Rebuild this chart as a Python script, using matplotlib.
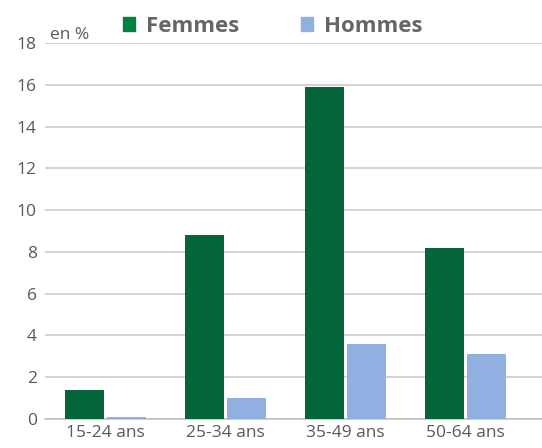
import numpy as np
import matplotlib.pyplot as plt
from matplotlib.patches import Patch

plt.rcParams['font.family'] = ['Open Sans', 'DejaVu Sans']

# donnees
categories = ["15-24 ans", "25-34 ans", "35-49 ans", "50-64 ans"]
femmes = [1.4, 8.8, 15.9, 8.2]
hommes = [0.1, 1.0, 3.6, 3.1]

c_fem = "#04653a"
c_hom = "#8fb0e0"
gris = "#595959"

fig = plt.figure(figsize=(5.42, 4.48), dpi=100)
ax = fig.add_axes([45/542, 29/448, 497/542, 376/448])

x = np.arange(len(categories))
w = 0.325
ax.bar(x - 0.175, femmes, width=w, color=c_fem, zorder=3)
ax.bar(x + 0.175, hommes, width=w, color=c_hom, zorder=3)

ax.set_xlim(-0.5, 3.64)
ax.set_ylim(0, 18)
ax.set_yticks(np.arange(0, 19, 2))
ax.set_xticks(x)
ax.set_xticklabels(categories)
ax.grid(axis='y', color='#c8c8c8', linewidth=1.1, zorder=0)
for s in ['top', 'right', 'left']:
    ax.spines[s].set_visible(False)
ax.spines['bottom'].set_color('#bfbfbf')
ax.spines['bottom'].set_linewidth(1.1)
ax.tick_params(length=0, labelsize=12.5, labelcolor=gris, pad=6)
ax.tick_params(axis='x', pad=4)

ax.text(0.01, 1.0, "en %", transform=ax.transAxes, fontsize=12.5,
        color=gris, va='bottom', ha='left')

handles = [Patch(color="#00833e"), Patch(color=c_hom)]
leg = fig.legend(handles, ["Femmes", "Hommes"], loc='upper left',
                 bbox_to_anchor=(123/542, 1 - 16/448), ncol=2, frameon=False,
                 borderpad=0, borderaxespad=0,
                 handlelength=0.55, handleheight=0.55, columnspacing=2.75,
                 handletextpad=0.5,
                 prop={'weight': 'bold', 'size': 16})
for t in leg.get_texts():
    t.set_color("#666666")

fig.savefig("out.png", dpi=100)
